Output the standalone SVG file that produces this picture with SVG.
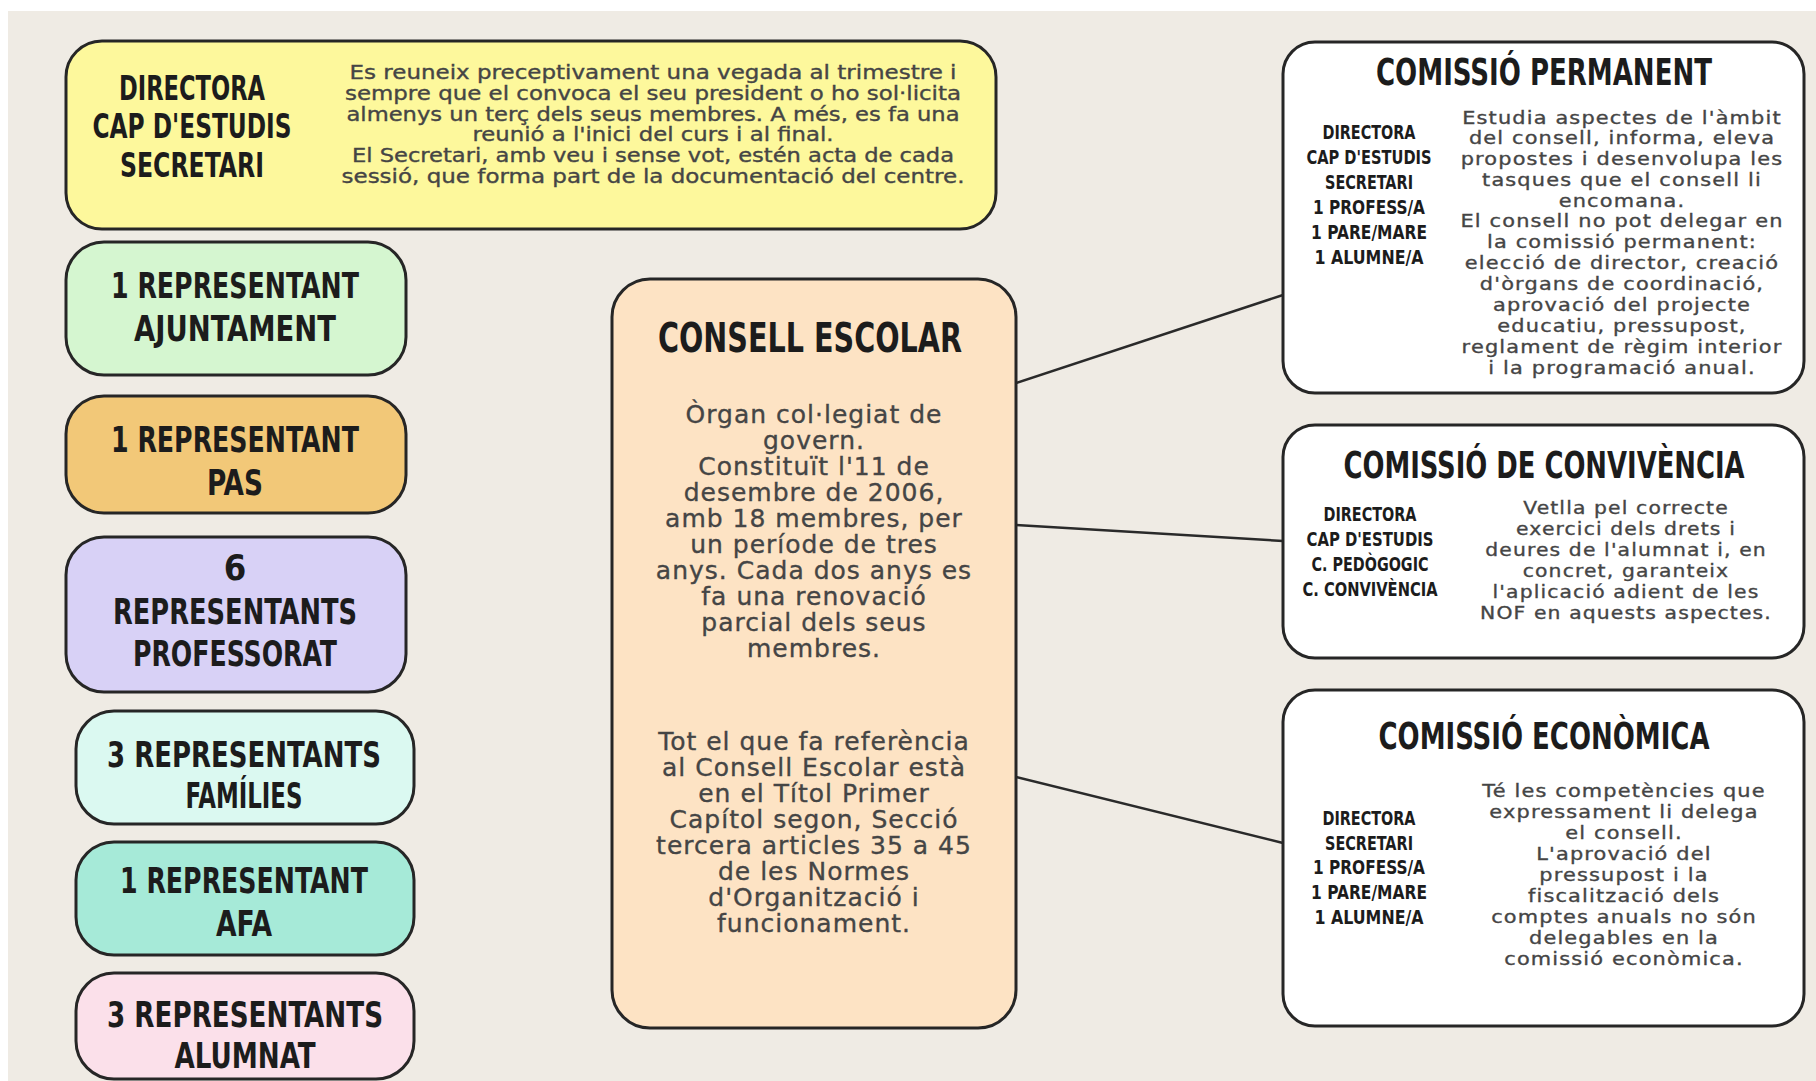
<svg xmlns="http://www.w3.org/2000/svg" width="1816" height="1081" viewBox="0 0 1816 1081">
<style>
.box{stroke:#262626;stroke-width:3}
.h{font-family:"DejaVu Sans Condensed","DejaVu Sans",sans-serif;font-weight:bold;fill:#1c1c1c;text-anchor:middle}
.b{font-family:"DejaVu Sans",sans-serif;fill:#454545;stroke:#454545;stroke-width:0.35;text-anchor:middle}
.conn{stroke:#2a2a2a;stroke-width:2.5;fill:none}
</style>
<rect x="0" y="0" width="1816" height="1081" fill="#ffffff"/>
<rect x="8" y="11" width="1808" height="1070" fill="#efebe4"/>

<g id="directora-box">
<rect class="box" x="66" y="41" width="930" height="188" rx="36" fill="#fdf89c"/>
<g class="h" font-size="34">
<text x="192" y="100" textLength="146" lengthAdjust="spacingAndGlyphs">DIRECTORA</text>
<text x="192" y="138" textLength="199" lengthAdjust="spacingAndGlyphs">CAP D'ESTUDIS</text>
<text x="192" y="177" textLength="144" lengthAdjust="spacingAndGlyphs">SECRETARI</text>
</g>
<g class="b" font-size="19" fill="#3b3b2c" stroke="#3b3b2c">
<text x="653" y="79" textLength="607" lengthAdjust="spacingAndGlyphs">Es reuneix preceptivament una vegada al trimestre i</text>
<text x="653" y="100" textLength="616" lengthAdjust="spacingAndGlyphs">sempre que el convoca el seu president o ho sol·licita</text>
<text x="653" y="121" textLength="613" lengthAdjust="spacingAndGlyphs">almenys un terç dels seus membres. A més, es fa una</text>
<text x="653" y="141" textLength="361" lengthAdjust="spacingAndGlyphs">reunió a l'inici del curs i al final.</text>
<text x="653" y="162" textLength="602" lengthAdjust="spacingAndGlyphs">El Secretari, amb veu i sense vot, estén acta de cada</text>
<text x="653" y="183" textLength="623" lengthAdjust="spacingAndGlyphs">sessió, que forma part de la documentació del centre.</text>
</g>
</g>

<g id="ajuntament">
<rect class="box" x="66" y="242" width="340" height="133" rx="38" fill="#d5f6d0"/>
<text class="h" font-size="36" x="235" y="298" textLength="248" lengthAdjust="spacingAndGlyphs">1 REPRESENTANT</text>
<text class="h" font-size="36" x="235" y="341" textLength="202" lengthAdjust="spacingAndGlyphs">AJUNTAMENT</text>
</g>

<g id="pas">
<rect class="box" x="66" y="396" width="340" height="117" rx="38" fill="#f2c878"/>
<text class="h" font-size="36" x="235" y="452" textLength="248" lengthAdjust="spacingAndGlyphs">1 REPRESENTANT</text>
<text class="h" font-size="36" x="235" y="495" textLength="56" lengthAdjust="spacingAndGlyphs">PAS</text>
</g>

<g id="professorat">
<rect class="box" x="66" y="537" width="340" height="155" rx="38" fill="#d8d1f6"/>
<text class="h" font-size="36" x="235" y="580">6</text>
<text class="h" font-size="36" x="235" y="624" textLength="244" lengthAdjust="spacingAndGlyphs">REPRESENTANTS</text>
<text class="h" font-size="36" x="235" y="666" textLength="204" lengthAdjust="spacingAndGlyphs">PROFESSORAT</text>
</g>

<g id="families">
<rect class="box" x="76" y="711" width="338" height="113" rx="38" fill="#dbf9f1"/>
<text class="h" font-size="36" x="244" y="767" textLength="274" lengthAdjust="spacingAndGlyphs">3 REPRESENTANTS</text>
<text class="h" font-size="36" x="244" y="808" textLength="117" lengthAdjust="spacingAndGlyphs">FAMÍLIES</text>
</g>

<g id="afa">
<rect class="box" x="76" y="842" width="338" height="113" rx="38" fill="#a6ead8"/>
<text class="h" font-size="36" x="244" y="893" textLength="248" lengthAdjust="spacingAndGlyphs">1 REPRESENTANT</text>
<text class="h" font-size="36" x="244" y="936" textLength="56" lengthAdjust="spacingAndGlyphs">AFA</text>
</g>

<g id="alumnat">
<rect class="box" x="76" y="973" width="338" height="106" rx="38" fill="#fbe0ea"/>
<text class="h" font-size="36" x="245" y="1027" textLength="276" lengthAdjust="spacingAndGlyphs">3 REPRESENTANTS</text>
<text class="h" font-size="36" x="245" y="1068" textLength="141" lengthAdjust="spacingAndGlyphs">ALUMNAT</text>
</g>

<g id="connectors">
<line class="conn" x1="1016" y1="383" x2="1283" y2="295"/>
<line class="conn" x1="1016" y1="525" x2="1283" y2="541"/>
<line class="conn" x1="1016" y1="777" x2="1283" y2="843"/>
</g>

<g id="consell-escolar">
<rect class="box" x="612" y="279" width="404" height="749" rx="38" fill="#fde3c4"/>
<text class="h" font-size="40" x="810" y="352" textLength="304" lengthAdjust="spacingAndGlyphs">CONSELL ESCOLAR</text>
<g class="b" font-size="25" letter-spacing="1" fill="#3d3935" stroke="#3d3935">
<text x="814" y="423">Òrgan col·legiat de</text>
<text x="814" y="449">govern.</text>
<text x="814" y="475">Constituït l'11 de</text>
<text x="814" y="501">desembre de 2006,</text>
<text x="814" y="527">amb 18 membres, per</text>
<text x="814" y="553">un període de tres</text>
<text x="814" y="579">anys. Cada dos anys es</text>
<text x="814" y="605">fa una renovació</text>
<text x="814" y="631">parcial dels seus</text>
<text x="814" y="657">membres.</text>
<text x="814" y="750">Tot el que fa referència</text>
<text x="814" y="776">al Consell Escolar està</text>
<text x="814" y="802">en el Títol Primer</text>
<text x="814" y="828">Capítol segon, Secció</text>
<text x="814" y="854">tercera articles 35 a 45</text>
<text x="814" y="880">de les Normes</text>
<text x="814" y="906">d'Organització i</text>
<text x="814" y="932">funcionament.</text>
</g>
</g>

<g id="comissio-permanent">
<rect class="box" x="1283" y="42" width="521" height="351" rx="32" fill="#ffffff"/>
<text class="h" font-size="38" x="1544" y="85" textLength="336" lengthAdjust="spacingAndGlyphs">COMISSIÓ PERMANENT</text>
<g class="h" font-size="20">
<text x="1369" y="139" textLength="93" lengthAdjust="spacingAndGlyphs">DIRECTORA</text>
<text x="1369" y="164" textLength="125" lengthAdjust="spacingAndGlyphs">CAP D'ESTUDIS</text>
<text x="1369" y="189" textLength="88" lengthAdjust="spacingAndGlyphs">SECRETARI</text>
<text x="1369" y="214" textLength="112" lengthAdjust="spacingAndGlyphs">1 PROFESS/A</text>
<text x="1369" y="239" textLength="116" lengthAdjust="spacingAndGlyphs">1 PARE/MARE</text>
<text x="1369" y="264" textLength="109" lengthAdjust="spacingAndGlyphs">1 ALUMNE/A</text>
</g>
<g class="b" font-size="18" letter-spacing="1" transform="translate(1622 0) scale(1.16 1)">
<text x="0" y="124">Estudia aspectes de l'àmbit</text>
<text x="0" y="144">del consell, informa, eleva</text>
<text x="0" y="165">propostes i desenvolupa les</text>
<text x="0" y="186">tasques que el consell li</text>
<text x="0" y="207">encomana.</text>
<text x="0" y="227">El consell no pot delegar en</text>
<text x="0" y="248">la comissió permanent:</text>
<text x="0" y="269">elecció de director, creació</text>
<text x="0" y="290">d'òrgans de coordinació,</text>
<text x="0" y="311">aprovació del projecte</text>
<text x="0" y="332">educatiu, pressupost,</text>
<text x="0" y="353">reglament de règim interior</text>
<text x="0" y="374">i la programació anual.</text>
</g>
</g>

<g id="comissio-convivencia">
<rect class="box" x="1283" y="425" width="521" height="233" rx="32" fill="#ffffff"/>
<text class="h" font-size="38" transform="translate(1544 478) scale(0.7 1)" x="0" y="0" textLength="573" lengthAdjust="spacingAndGlyphs">COMISSIÓ DE CONVIVÈNCIA</text>
<g class="h" font-size="20">
<text x="1370" y="521" textLength="93" lengthAdjust="spacingAndGlyphs">DIRECTORA</text>
<text x="1370" y="546" textLength="127" lengthAdjust="spacingAndGlyphs">CAP D'ESTUDIS</text>
<text x="1370" y="571" textLength="117" lengthAdjust="spacingAndGlyphs">C. PEDÒGOGIC</text>
<text x="1370" y="596" textLength="135" lengthAdjust="spacingAndGlyphs">C. CONVIVÈNCIA</text>
</g>
<g class="b" font-size="18" letter-spacing="1" transform="translate(1626 0) scale(1.13 1)">
<text x="0" y="514">Vetlla pel correcte</text>
<text x="0" y="535">exercici dels drets i</text>
<text x="0" y="556">deures de l'alumnat i, en</text>
<text x="0" y="577">concret, garanteix</text>
<text x="0" y="598">l'aplicació adient de les</text>
<text x="0" y="619">NOF en aquests aspectes.</text>
</g>
</g>

<g id="comissio-economica">
<rect class="box" x="1283" y="690" width="521" height="336" rx="32" fill="#ffffff"/>
<text class="h" font-size="38" x="1544" y="749" textLength="331" lengthAdjust="spacingAndGlyphs">COMISSIÓ ECONÒMICA</text>
<g class="h" font-size="20">
<text x="1369" y="825" textLength="93" lengthAdjust="spacingAndGlyphs">DIRECTORA</text>
<text x="1369" y="850" textLength="88" lengthAdjust="spacingAndGlyphs">SECRETARI</text>
<text x="1369" y="874" textLength="112" lengthAdjust="spacingAndGlyphs">1 PROFESS/A</text>
<text x="1369" y="899" textLength="116" lengthAdjust="spacingAndGlyphs">1 PARE/MARE</text>
<text x="1369" y="924" textLength="109" lengthAdjust="spacingAndGlyphs">1 ALUMNE/A</text>
</g>
<g class="b" font-size="18" letter-spacing="1" transform="translate(1624 0) scale(1.16 1)">
<text x="0" y="797">Té les competències que</text>
<text x="0" y="818">expressament li delega</text>
<text x="0" y="839">el consell.</text>
<text x="0" y="860">L'aprovació del</text>
<text x="0" y="881">pressupost i la</text>
<text x="0" y="902">fiscalització dels</text>
<text x="0" y="923">comptes anuals no són</text>
<text x="0" y="944">delegables en la</text>
<text x="0" y="965">comissió econòmica.</text>
</g>
</g>
</svg>
